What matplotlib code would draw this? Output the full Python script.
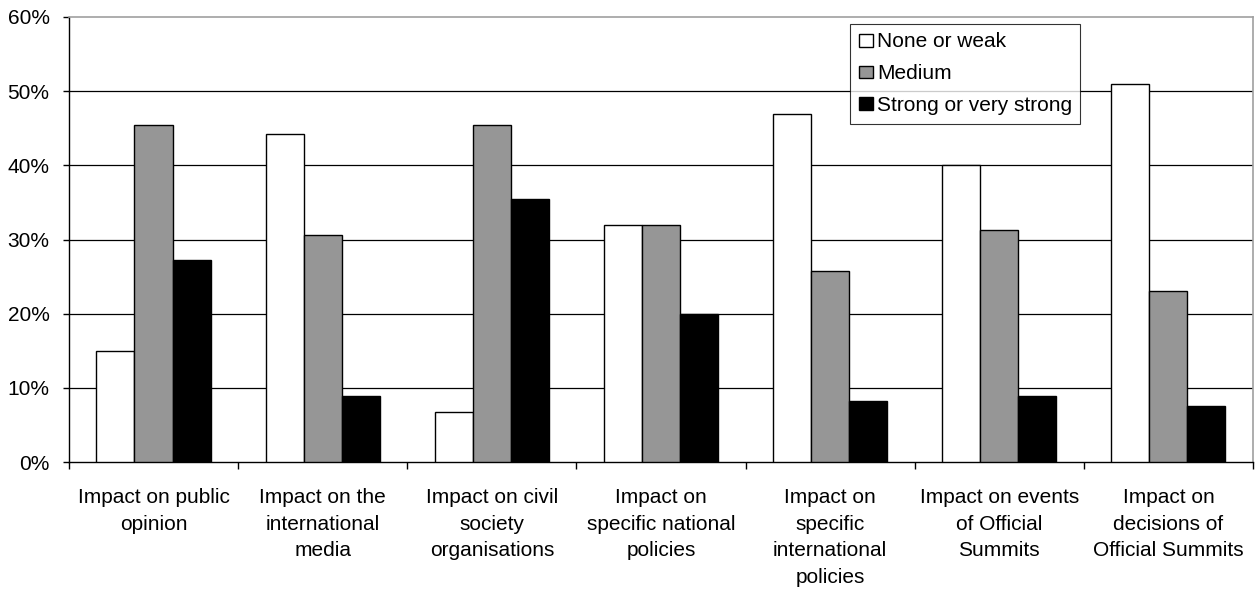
import matplotlib
matplotlib.use("Agg")
import matplotlib.pyplot as plt
import numpy as np
from matplotlib.patches import Patch

categories = [
    "Impact on public\nopinion",
    "Impact on the\ninternational\nmedia",
    "Impact on civil\nsociety\norganisations",
    "Impact on\nspecific national\npolicies",
    "Impact on\nspecific\ninternational\npolicies",
    "Impact on events\nof Official\nSummits",
    "Impact on\ndecisions of\nOfficial Summits",
]
series_names = ["None or weak", "Medium", "Strong or very strong"]
none_weak = [15.0, 44.2, 6.8, 31.9, 46.9, 40.1, 50.9]
medium = [45.5, 30.6, 45.5, 31.9, 25.8, 31.3, 23.1]
strong = [27.3, 8.9, 35.4, 19.9, 8.2, 8.9, 7.5]
yticks = [0, 10, 20, 30, 40, 50, 60]
ytick_labels = ["0%", "10%", "20%", "30%", "40%", "50%", "60%"]

colors = ["#ffffff", "#969696", "#000000"]

plt.rcParams['font.family'] = ['Liberation Sans', 'DejaVu Sans']
FS = 15

fig = plt.figure(figsize=(12.56, 5.90), dpi=100)
ax = fig.add_axes([0.0549, 0.2169, 0.9427, 0.7543])

x = np.arange(len(categories))
w = 0.225
for i, (vals, c) in enumerate(zip([none_weak, medium, strong], colors)):
    ax.bar(x + (i - 1) * w, vals, width=w, color=c, edgecolor="black",
           linewidth=1.0, zorder=3)

ax.set_xlim(-0.5, len(categories) - 0.5)
ax.set_ylim(0, 60)
ax.set_yticks(yticks)
ax.set_yticklabels(ytick_labels, fontsize=FS)
for yv in yticks[1:-1]:
    ax.axhline(yv, color="black", linewidth=0.9, zorder=1)

ax.set_xticks(x)
ax.set_xticklabels(categories, fontsize=FS, linespacing=1.5)
ax.tick_params(axis="x", which="major", length=0, pad=19)
ax.set_xticks(np.arange(-0.5, len(categories) + 0.5, 1), minor=True)
ax.tick_params(axis="x", which="minor", length=5, width=1, color="black")
ax.tick_params(axis="y", length=4.5, width=1, pad=9.5)

for s in ["left", "bottom"]:
    ax.spines[s].set_color("black")
    ax.spines[s].set_linewidth(1.0)
for s in ["top", "right"]:
    ax.spines[s].set_color("#a0a0a0")
    ax.spines[s].set_linewidth(1.2)

handles = [Patch(facecolor=c, edgecolor="black", linewidth=1.0) for c in colors]
leg = ax.legend(handles, series_names, loc="upper left",
                bbox_to_anchor=(0.660, 0.984), fontsize=FS,
                frameon=True, fancybox=False, edgecolor="black",
                handlelength=0.67, handleheight=0.58, handletextpad=0.2,
                borderpad=0.4, labelspacing=0.62, borderaxespad=0)
leg.get_frame().set_linewidth(0.8)

fig.savefig("out.png", dpi=100, facecolor="white")
